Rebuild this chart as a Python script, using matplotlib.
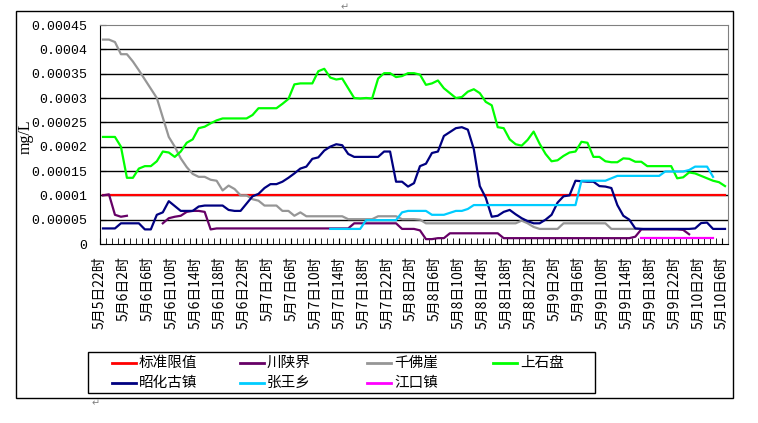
import numpy as np
import matplotlib.pyplot as plt
from matplotlib.lines import Line2D
from matplotlib.patches import Rectangle

W, H = 758, 423

# x axis: hourly samples from 5/5 22h to 5/10 6h, labelled every 4 hours
tick_labels = ["5月5日22时", "5月6日2时", "5月6日6时", "5月6日10时", "5月6日14时",
               "5月6日18时", "5月6日22时", "5月7日2时", "5月7日6时", "5月7日10时",
               "5月7日14时", "5月7日18时", "5月7日22时", "5月8日2时", "5月8日6时",
               "5月8日10时", "5月8日14时", "5月8日18时", "5月8日22时", "5月9日2时",
               "5月9日6时", "5月9日10时", "5月9日14时", "5月9日18时", "5月9日22时",
               "5月10日2时", "5月10日6时"]

y_ticks = [0, 0.00005, 0.0001, 0.00015, 0.0002, 0.00025, 0.0003, 0.00035, 0.0004, 0.00045]
y_labels = ["0", "0.00005", "0.0001", "0.00015", "0.0002", "0.00025",
            "0.0003", "0.00035", "0.0004", "0.00045"]

names = ["标准限值", "川陕界", "千佛崖", "上石盘", "昭化古镇", "张王乡", "江口镇"]
colors = ["#FF0000", "#660066", "#969696", "#00FF00", "#000080", "#00CCFF", "#FF00FF"]

N = None
# values in units of 1e-5 mg/L, one per hour (105 points)
biaozhun = [10.0] * 105

chuanshanjie = [10.0, 10.2, 6.0, 5.6, 5.8, N, N, N, N, N,
                4.25, 5.3, 5.6, 5.8, 6.6, 6.8, 6.8, 6.6, 3.0, 3.2,
                3.2, 3.2, 3.2, 3.2, 3.2, 3.2, 3.2, 3.2, 3.2, 3.2,
                3.2, 3.2, 3.2, 3.2, 3.2, 3.2, 3.2, 3.2, 3.2, 3.2,
                3.2, 3.2, 4.25, 4.25, 4.25, 4.25, 4.25, 4.25, 4.25, 4.25,
                3.1, 3.1, 3.1, 2.8, 1.0, 1.0, 1.2, 1.2, 2.2, 2.2,
                2.2, 2.2, 2.2, 2.2, 2.2, 2.2, 2.2, 1.2, 1.2, 1.2,
                1.2, 1.2, 1.2, 1.2, 1.2, 1.2, 1.2, 1.2, 1.2, 1.2,
                1.2, 1.2, 1.2, 1.2, 1.2, 1.2, 1.2, 1.2, 1.2, 1.5,
                3.0, 3.0, 3.0, 3.0, 3.0, 3.0, 3.0, 2.9, 2.0, N,
                N, N, N, N, N]

qianfoya = [42.0, 42.0, 41.5, 39.0, 39.0, 37.5, 35.7, 33.8, 31.9, 30.0,
            26.0, 22.0, 20.0, 17.6, 15.8, 14.4, 13.8, 13.8, 13.2, 13.0,
            11.0, 12.0, 11.3, 10.0, 10.0, 9.2, 8.9, 7.9, 7.9, 7.9,
            6.8, 6.8, 5.8, 6.5, 5.7, 5.7, 5.7, 5.7, 5.7, 5.7,
            5.7, 5.1, 5.1, 5.1, 5.1, 5.1, 5.7, 5.7, 5.7, 5.7,
            5.1, 5.1, 5.1, 5.0, 4.25, 4.25, 4.25, 4.25, 4.25, 4.25,
            4.25, 4.25, 4.25, 4.25, 4.25, 4.25, 4.25, 4.25, 4.25, 4.25,
            4.8, 4.25, 3.5, 3.1, 3.1, 3.1, 3.1, 4.25, 4.25, 4.25,
            4.25, 4.25, 4.25, 4.25, 4.25, 3.1, 3.1, 3.1, 3.1, 3.1,
            3.1, N, N, N, N, N, N, N, N, N,
            N, N, N, N, N]

shangshipan = [22.0, 22.0, 22.0, 20.0, 13.6, 13.6, 15.5, 16.0, 16.0, 17.0,
               19.0, 18.8, 17.9, 19.0, 20.8, 21.5, 23.8, 24.1, 24.8, 25.4,
               25.8, 25.8, 25.8, 25.8, 25.8, 26.5, 27.9, 27.9, 27.9, 27.9,
               28.8, 29.8, 32.8, 33.0, 33.0, 33.0, 35.5, 36.0, 34.2, 33.8,
               34.0, 32.0, 30.0, 29.9, 30.0, 29.9, 34.0, 35.1, 35.1, 34.3,
               34.5, 35.1, 35.1, 34.8, 32.7, 33.0, 33.6, 32.0, 31.0, 30.0,
               30.2, 31.3, 31.8, 31.0, 29.2, 28.5, 24.0, 23.8, 21.5, 20.5,
               20.2, 21.4, 23.1, 20.6, 18.5, 17.0, 17.2, 18.1, 18.8, 19.0,
               21.0, 20.8, 17.9, 17.9, 17.0, 16.8, 16.8, 17.6, 17.5, 16.9,
               16.9, 16.0, 16.0, 16.0, 16.0, 16.0, 13.5, 13.7, 14.7, 14.5,
               14.0, 13.5, 13.0, 12.7, 11.9]

zhaohua = [3.2, 3.2, 3.2, 4.25, 4.25, 4.25, 4.25, 3.0, 3.0, 6.0,
           6.5, 8.8, 7.8, 6.8, 6.8, 6.8, 7.7, 7.9, 7.9, 7.9,
           7.9, 7.0, 6.8, 6.8, 8.3, 9.8, 10.3, 11.5, 12.3, 12.3,
           12.8, 13.6, 14.5, 15.5, 15.9, 17.5, 17.8, 19.2, 20.0, 20.5,
           20.3, 18.5, 17.9, 17.9, 17.9, 17.9, 17.9, 19.0, 19.0, 12.8,
           12.8, 11.8, 12.5, 16.0, 16.5, 18.7, 19.0, 22.2, 23.0, 23.8,
           24.0, 23.5, 19.5, 11.9, 9.5, 5.6, 5.8, 6.6, 7.0, 6.1,
           5.3, 4.7, 4.25, 4.25, 5.0, 6.0, 8.5, 9.8, 10.0, 13.0,
           12.9, 12.8, 12.8, 11.9, 11.8, 11.5, 8.0, 5.8, 5.0, 3.2,
           3.1, 3.1, 3.1, 3.1, 3.1, 3.1, 3.1, 3.1, 3.1, 3.2,
           4.3, 4.4, 3.1, 3.1, 3.1]

zhangwang = [N] * 38 + [
             3.1, 3.1, 3.1, 3.1, 3.1, 3.1, 4.9, 4.9, 4.9, 4.9,
             4.9, 4.9, 6.5, 6.8, 6.8, 6.8, 6.8, 6.0, 6.0, 6.0,
             6.4, 6.8, 6.8, 7.2, 8.0, 8.0, 8.0, 8.0, 8.0, 8.0,
             8.0, 8.0, 8.0, 8.0, 8.0, 8.0, 8.0, 8.0, 8.0, 8.0,
             8.0, 8.0, 13.0, 13.0, 13.0, 13.0, 13.0, 13.5, 14.0, 14.0,
             14.0, 14.0, 14.0, 14.0, 14.0, 14.0, 14.9, 14.9, 14.9, 14.9,
             15.2, 15.9, 15.9, 15.9, 13.8, N, N]

jiangkou = [N] * 90 + [1.2] * 13 + [N, N]

series = [biaozhun, chuanshanjie, qianfoya, shangshipan, zhaohua, zhangwang, jiangkou]

fig = plt.figure(figsize=(W / 100, H / 100), dpi=100)
fig.patch.set_facecolor("white")


def fx(x):
    return x / W


def fy(y):
    return 1 - y / H


ax = fig.add_axes([fx(100), fy(244), 628 / W, 219 / H])

x = np.arange(105)
for vals, name, c in zip(series, names, colors):
    y = np.array([np.nan if v is None else v * 1e-5 for v in vals])
    ax.plot(x, y, color=c, lw=1.6, label=name, solid_joinstyle="round")

ax.set_xlim(-0.5, 104.5)
ax.set_ylim(0, 0.00045)

# horizontal gridlines
for t in y_ticks[1:-1]:
    ax.axhline(t, color="black", lw=1, zorder=0)

ax.set_yticks(y_ticks)
ax.set_yticklabels(y_labels, family="Liberation Mono", fontsize=9.5)
ax.tick_params(axis="y", direction="in", length=4, pad=9, color="black")

ax.set_xticks(np.arange(0, 105, 4) - 0.5)
ax.set_xticklabels(tick_labels, rotation=90, fontsize=10,
                   family=["Noto Sans CJK SC", "DejaVu Sans"])
ax.set_xticks(np.arange(105) - 0.5, minor=True)
ax.tick_params(axis="x", which="both", direction="in", length=4, pad=9, color="black")

ax.spines["left"].set_color("black")
ax.spines["bottom"].set_color("black")
ax.spines["top"].set_color("#808080")
ax.spines["right"].set_color("#808080")

ax.set_ylabel("mg/L", family="Liberation Serif", fontsize=11.5)
ax.yaxis.set_label_coords(-0.105, 0.49)

# outer chart frame
fig.patches.append(Rectangle((fx(16), fy(398)), (733 - 16) / W, (398 - 11) / H,
                             transform=fig.transFigure, fill=False, ec="black", lw=1))

# legend box, laid out as in the original (4 columns, 2 rows)
fig.patches.append(Rectangle((fx(88), fy(393)), (595 - 88) / W, (393 - 352) / H,
                             transform=fig.transFigure, fill=False, ec="black", lw=1))
col_x = [112, 240, 367, 493]
row_y = [363, 383]
for k, (name, c) in enumerate(zip(names, colors)):
    r, cidx = divmod(k, 4)
    lx, ly = col_x[cidx], row_y[r]
    fig.add_artist(Line2D([fx(lx), fx(lx + 24)], [fy(ly), fy(ly)],
                          transform=fig.transFigure, color=c, lw=2))
    fig.text(fx(lx + 27), fy(ly), name, fontsize=10.5, va="center", ha="left",
             family=["Noto Sans CJK SC", "DejaVu Sans"])

# paragraph marks from the source document
fig.text(fx(345), fy(7), "↵", fontsize=7, color="#808080", ha="center", va="center")
fig.text(fx(96), fy(403), "↵", fontsize=7, color="#808080", ha="center", va="center")

fig.savefig("out.png", dpi=100)
